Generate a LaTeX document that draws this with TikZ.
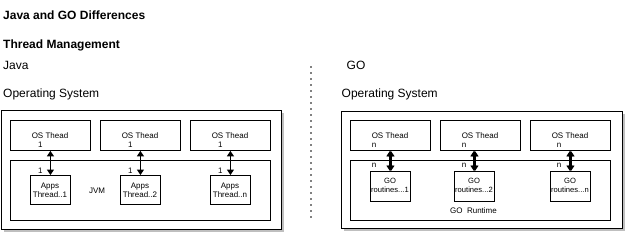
\documentclass[tikz,border=0pt]{standalone}
\usepackage{fontspec}
\setmainfont{Liberation Sans}
\usetikzlibrary{arrows.meta,shadows}
\begin{document}
\begin{tikzpicture}[x=1pt,y=-1pt,
  box/.style={draw=black,line width=0.9pt,fill=white,inner sep=0pt,anchor=north west},
  frame/.style={box,drop shadow={shadow xshift=2.5pt,shadow yshift=-2.5pt,opacity=0.25,fill=black}},
  heading/.style={font=\fontsize{12}{14}\selectfont\bfseries,anchor=base west,inner sep=0pt},
  title/.style={font=\fontsize{12}{14}\selectfont,anchor=base west,inner sep=0pt},
  small/.style={font=\fontsize{8}{9.4}\selectfont,anchor=base,inner sep=0pt},
  twoline/.style={font=\fontsize{8}{9.4}\selectfont,align=center,inner sep=0pt},
  gotwoline/.style={font=\fontsize{7.6}{9.4}\selectfont,align=center,inner sep=0pt},
  link/.style={{Triangle[length=5.5pt,width=7pt]}-{Triangle[length=5.5pt,width=7pt]},line width=1.2pt},
  separator/.style={line width=1.7pt,line cap=round,dash pattern=on 0pt off 6pt}
]
\useasboundingbox (0,0) rectangle (633,242);

% headings
\node[heading] (hdr) at (3,19.5) {Java and GO Differences};
\node[heading] (sub) at (3,48.5) {Thread Management};
\node[title] (javaT) at (3,69.5) {Java};
\node[title] (javaOS) at (3,97) {Operating System};
\node[title] (goT) at (346.5,69.5) {GO};
\node[title] (goOS) at (341.5,97) {Operating System};

% dotted divider between the two halves
\coordinate (sepTop) at (311,67);
\coordinate (sepBot) at (311,220);
\draw[separator] (sepTop) -- (sepBot);

% ---------------- Java side ----------------
\node[frame,minimum width=280pt,minimum height=119pt] (jframe) at (1,110) {};
\node[box,minimum width=80pt,minimum height=30pt] (jos1) at (10,120) {};
\node[box,minimum width=80pt,minimum height=30pt] (jos2) at (100,120) {};
\node[box,minimum width=80pt,minimum height=30pt] (jos3) at (190,120) {};
\node[box,minimum width=260pt,minimum height=60pt] (jvm) at (10,160) {};
\node[box,minimum width=40pt,minimum height=29pt] (app1) at (30,175) {};
\node[box,minimum width=40pt,minimum height=29pt] (app2) at (120,175) {};
\node[box,minimum width=40pt,minimum height=29pt] (app3) at (210,175) {};

\foreach \i/\cx in {1/50,2/140,3/230}{
  \node[small] (josT\i) at (\cx,138) {OS Thead};
  \node[small] (josN\i) at (\cx-9.7,147) {1};
  \node[small] (appN\i) at (\cx-9.7,173) {1};
}
\node[twoline] (appT1) at (50,190) {Apps\\Thread..1};
\node[twoline] (appT2) at (140,190) {Apps\\Thread..2};
\node[twoline] (appT3) at (230,190) {Apps\\Thread..n};
\node[small] (jvmT) at (97,193) {JVM};

\draw[link] (jos1.south) -- (app1.north);
\draw[link] (jos2.south) -- (app2.north);
\draw[link] (jos3.south) -- (app3.north);

% ---------------- GO side ----------------
\node[frame,minimum width=281pt,minimum height=117pt] (gframe) at (341,111) {};
\node[box,minimum width=80pt,minimum height=30pt] (gos1) at (350,120) {};
\node[box,minimum width=80pt,minimum height=30pt] (gos2) at (440,120) {};
\node[box,minimum width=80pt,minimum height=30pt] (gos3) at (530,120) {};
\node[box,minimum width=260pt,minimum height=60pt] (grt) at (350,160) {};
\node[box,minimum width=40pt,minimum height=30pt] (gr1) at (370,171) {};
\node[box,minimum width=40pt,minimum height=30pt] (gr2) at (454,171) {};
\node[box,minimum width=40pt,minimum height=30pt] (gr3) at (550,171) {};

\foreach \i/\cx/\nx in {1/390/374,2/480/464,3/570/559}{
  \node[small] (gosT\i) at (\cx,138) {OS Thead};
  \node[small] (gosN\i) at (\nx,147.5) {n};
  \node[small] (grN\i) at (\nx,167) {n};
}
\node[gotwoline] (grT1) at (390,185.5) {GO\\routines...1};
\node[gotwoline] (grT2) at (474,185.5) {GO\\routines...2};
\node[gotwoline] (grT3) at (570,185.5) {GO\\routines...n};
\node[small] (grtT) at (473.5,213) {GO~~Runtime};

% paired links between OS threads and goroutines
\foreach \i in {1,2,3}{
  \draw[link,transform canvas={xshift=-0.5pt}] (gr\i.north |- gos\i.south) -- (gr\i.north);
  \draw[link,transform canvas={xshift=0.5pt}] (gr\i.north |- gos\i.south) -- (gr\i.north);
}
\end{tikzpicture}
\end{document}
